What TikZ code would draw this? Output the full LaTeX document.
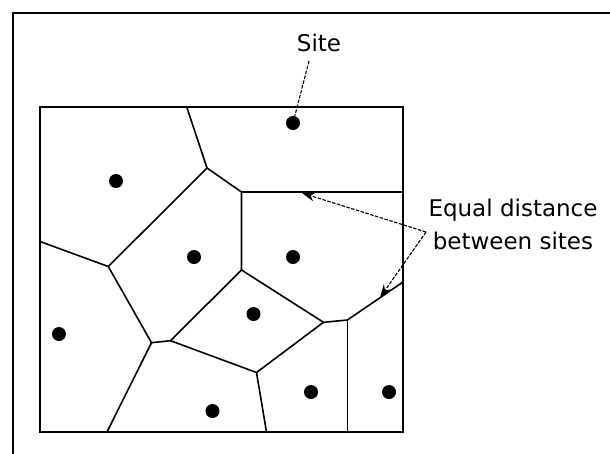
\documentclass[tikz,border=0pt]{standalone}
\usepackage{fontspec}
\setmainfont{DejaVu Sans}
\usetikzlibrary{arrows.meta}
\begin{document}
\begin{tikzpicture}[x=1pt, y=-1pt, >={Stealth[length=13pt, width=9pt]},
		site/.style={circle, fill, inner sep=0pt, minimum size=14pt},
		edge/.style={line width=1.6pt},
		leader/.style={line width=1.1pt, dash pattern=on 3.5pt off 1.5pt},
		lbl/.style={font=\fontsize{23}{32.5}\selectfont, inner sep=0pt}]
		% ramka i kwadrat
		\clip (0,0) rectangle (610,453);
		\fill[white] (0,0) rectangle (610,453);
		\draw[line width=2pt] (12.5,470) -- (12.5,13) -- (620,13);
		\draw[line width=2pt] (40,107) rectangle (403,432);
		% wierzchołki komórek
		\coordinate (t1) at (186.7,107);
		\coordinate (v2) at (207,168);
		\coordinate (v3) at (241.5,192);
		\coordinate (r1) at (403,192);
		\coordinate (l1) at (40,241.5);
		\coordinate (v4) at (108.3,266.5);
		\coordinate (v5) at (241.5,270);
		\coordinate (v6) at (151.5,342.7);
		\coordinate (v7) at (170.5,340.7);
		\coordinate (v8) at (323.5,322.3);
		\coordinate (v9) at (347.4,320);
		\coordinate (r2) at (403,282);
		\coordinate (v10) at (256.5,372.5);
		\coordinate (b1) at (107,432);
		\coordinate (b2) at (266.5,432);
		\coordinate (b3) at (347.4,432);
		% krawędzie
		\draw[edge] (t1) -- (v2) -- (v3) -- (r1);
		\draw[edge] (l1) -- (v4) -- (v2);
		\draw[edge] (v3) -- (v5) -- (v8) -- (v9) -- (r2);
		\draw[edge] (v4) -- (v6) -- (v7) -- (v5);
		\draw[edge] (v6) -- (b1);
		\draw[edge] (v7) -- (v10) -- (v8);
		\draw[edge] (v10) -- (b2);
		\draw[edge] (v9) -- (b3);
		% punkty
		\node[site] (d1) at (293,123) {};
		\node[site] (d2) at (116,181) {};
		\node[site] (d3) at (194,257) {};
		\node[site] (d4) at (293,257) {};
		\node[site] (d5) at (253.5,314) {};
		\node[site] (d6) at (59,334) {};
		\node[site] (d7) at (311,392) {};
		\node[site] (d8) at (389,392) {};
		\node[site] (d9) at (212.5,411) {};
		% opisy
		\node[lbl, anchor=base] (sitelbl) at (319,51.7) {Site};
		\coordinate (sitefoot) at (309,61);
		\draw[leader] (sitefoot) -- (d1);
		\node[lbl, anchor=base, align=center] (eqlbl) at (513,249.3) {Equal distance\\between sites};
		\coordinate (apex) at (426,232);
		\coordinate (tipa) at (302,193);
		\coordinate (tipb) at (380,297.5);
		\draw[leader, ->] (apex) -- (tipa);
		\draw[leader, ->] (apex) -- (tipb);
	\end{tikzpicture}
\end{document}
